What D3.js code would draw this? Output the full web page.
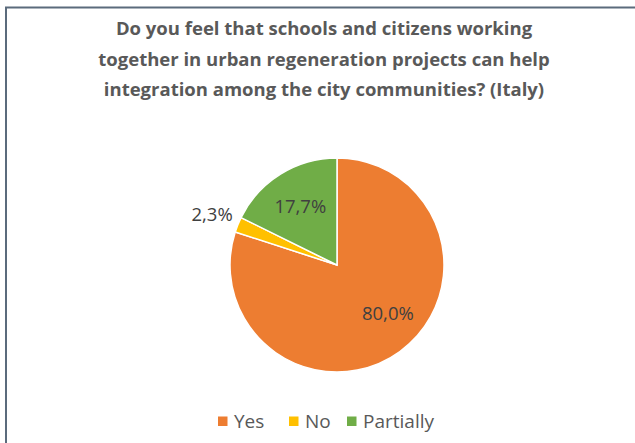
<!DOCTYPE html>
<html><head><meta charset="utf-8">
<script src="https://cdn.jsdelivr.net/npm/d3@7"></script>
<style>body{margin:0;background:#fff}svg{display:block}</style>
</head><body>
<script>
const categories = ["Yes", "No", "Partially"];
const values = [80.0, 2.3, 17.7];
const labels = ["80,0%", "2,3%", "17,7%"];
const colors = ["#ED7D31", "#FFC000", "#70AD47"];
const titleLines = ["Do you feel that schools and citizens working",
  "together in urban regeneration projects can help",
  "integration among the city communities? (Italy)"];

const W = 635, H = 443;
const svg = d3.select("body").append("svg").attr("width", W).attr("height", H);
svg.append("rect").attr("width", W).attr("height", H).attr("fill", "#fff");
// border
svg.append("path").attr("d", `M6,${H} L6,7.5 L${W},7.5`).attr("fill", "none")
  .attr("stroke", "#5b6b7c").attr("stroke-width", 2);

const font = "'Open Sans', 'Liberation Sans', sans-serif";
svg.append("g").selectAll("text").data(titleLines).join("text")
  .attr("x", 324).attr("y", (d, i) => 35 + i * 30.5)
  .attr("text-anchor", "middle").attr("font-family", font)
  .attr("font-weight", "bold").attr("font-size", 18.5).attr("fill", "#595959")
  .text(d => d);

const cx = 337, cy = 265, r = 107;
const data = categories.map((c, i) => ({c, v: values[i], label: labels[i], color: colors[i]}));
const pie = d3.pie().value(d => d.v).sort(null);
const arcs = pie(data);
const arc = d3.arc().innerRadius(0).outerRadius(r);
const g = svg.append("g").attr("transform", `translate(${cx},${cy})`);
g.selectAll("path").data(arcs).join("path")
  .attr("d", arc).attr("fill", d => d.data.color)
  .attr("stroke", "#fff").attr("stroke-width", 1.5);

const labelArc = d3.arc().innerRadius(r * 0.65).outerRadius(r * 0.65);
const labelPos = arcs.map((a, i) => {
  const mid = (a.startAngle + a.endAngle) / 2;
  if (i === 1) {
    const rr = r + 30;
    return [Math.sin(mid) * rr + 2, -Math.cos(mid) * rr];
  }
  const c = labelArc.centroid(a);
  if (i === 0) return [c[0] + 10, c[1] - 9];
  return c;
});
g.selectAll("text").data(arcs).join("text")
  .attr("x", (d, i) => labelPos[i][0]).attr("y", (d, i) => labelPos[i][1])
  .attr("text-anchor", "middle").attr("dominant-baseline", "central")
  .attr("font-family", font).attr("font-size", 18.5).attr("fill", "#404040")
  .text(d => d.data.label);

// legend
const legX = [218, 289, 347];
const lg = svg.append("g");
data.forEach((d, i) => {
  lg.append("rect").attr("x", legX[i]).attr("y", 416.5).attr("width", 9.5).attr("height", 9.5).attr("fill", d.color);
  lg.append("text").attr("x", legX[i] + 16).attr("y", 421).attr("dominant-baseline", "central")
    .attr("font-family", font).attr("font-size", 19).attr("fill", "#595959").text(d.c);
});
</script>
</body></html>
